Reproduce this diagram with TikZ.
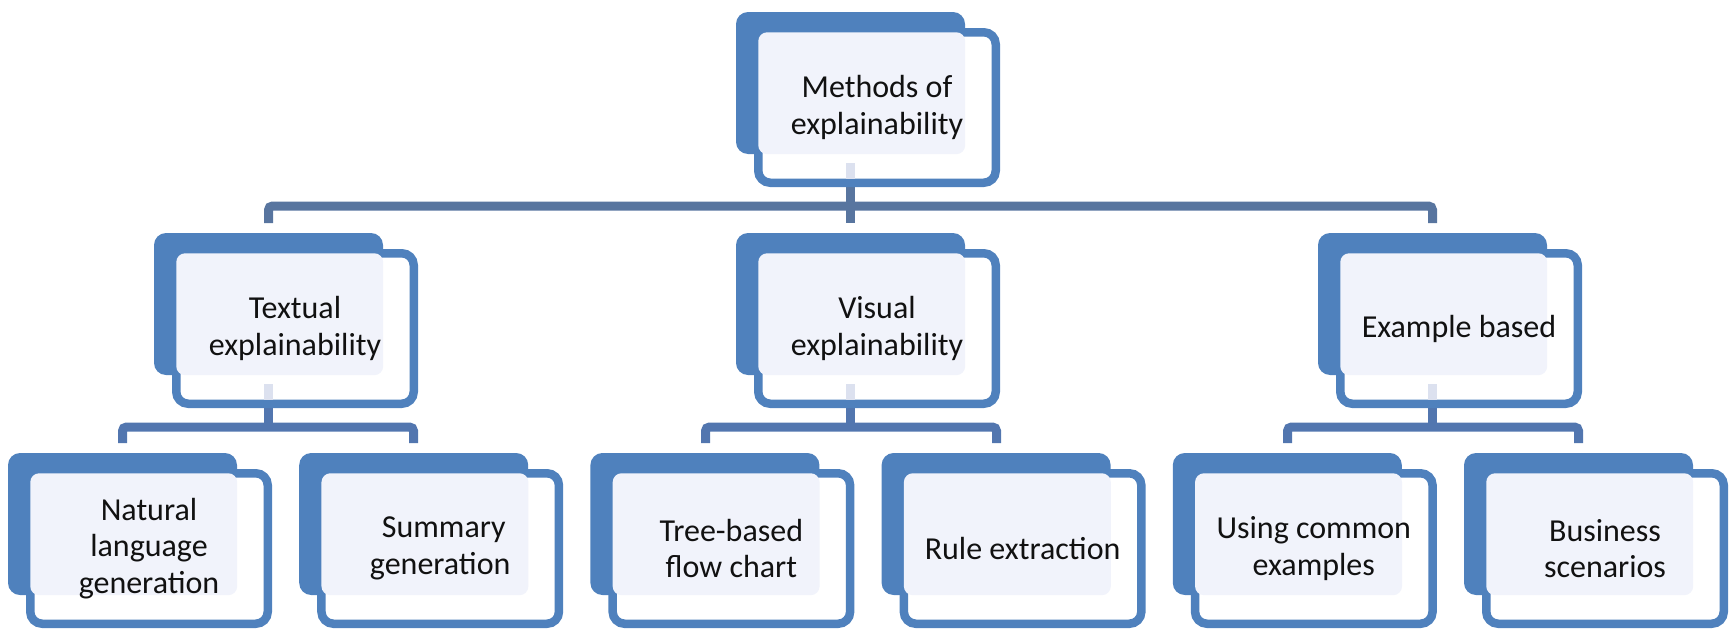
\documentclass[tikz,border=0pt]{standalone}
\usepackage{fontspec}
\setmainfont{Carlito}
\usetikzlibrary{calc}
\definecolor{boxblue}{HTML}{4F81BD}
\definecolor{lav}{HTML}{F1F3FB}
\definecolor{faintc}{HTML}{DCE1EF}
\definecolor{connA}{HTML}{58759F}
\definecolor{connB}{HTML}{5276AF}
\definecolor{txt}{HTML}{111111}
\tikzset{
  backbox/.style={fill=boxblue, draw=none, inner sep=0pt, minimum width=229pt, minimum height=142pt, rounded corners=12pt},
  frontbox/.style={fill=white, draw=boxblue, line width=8.5pt, inner sep=0pt, minimum width=237.5pt, minimum height=150.5pt, rounded corners=12pt},
  lavfill/.style={fill=lav, rounded corners=9pt},
  faintseg/.style={fill=faintc},
  lbl/.style={text=txt, align=center, inner sep=0pt, font=\fontsize{32pt}{36.5pt}\selectfont},
  connone/.style={draw=connA, line width=9pt, rounded corners=4pt},
  conntwo/.style={draw=connB, line width=9pt, rounded corners=4pt},
}
\newcommand\xleaf[4]{%
  \node[backbox] (#1-b) at ({#2+114.5},{#3+71}) {};
  \node[frontbox] (#1) at ({#2+141},{#3+95.5}) {};
  \fill[lavfill] ([shift={(4.25pt,-4.25pt)}]#1.north west) rectangle (#1-b.south east);
  \node[lbl] (#1-t) at (#1.center) {#4};
}
\newcommand\xbox[4]{%
  \xleaf{#1}{#2}{#3}{#4}%
  \fill[faintseg] ({#2+110},{#3+151}) rectangle ({#2+119},{#3+166.5});
}
\begin{document}
\begin{tikzpicture}[x=1pt,y=-1pt]
\useasboundingbox (0,0) rectangle (1729,629);
% junction coordinates
\coordinate (j0) at (850.5,206);
\coordinate (j1) at (268.5,427);
\coordinate (j2) at (850.5,427);
\coordinate (j3) at (1432.5,427);
% connectors (drawn first, boxes cover their ends)
\draw[connone] (268.5,223) |- (j0) -| (1432.5,223);
\draw[connone] (850.5,185) -- (j0) -- (850.5,223);
\draw[conntwo] (122.5,443) |- (j1) -| (413.5,443);
\draw[conntwo] (268.5,405) -- (j1);
\draw[conntwo] (705.5,443) |- (j2) -| (996.5,443);
\draw[conntwo] (850.5,405) -- (j2);
\draw[conntwo] (1287.5,443) |- (j3) -| (1578.5,443);
\draw[conntwo] (1432.5,405) -- (j3);
% boxes
\xbox{m}{736}{12}{Methods of\\explainability}
\xbox{tx}{154}{233}{Textual\\explainability}
\xbox{vi}{736}{233}{Visual\\explainability}
\xbox{ex}{1318}{233}{Example based}
\xleaf{nl}{8}{453}{Natural\\language\\generation}
\xleaf{sg}{299.2}{453}{\ Summary\\generation}
\xleaf{tb}{590.4}{453}{Tree-based\\flow chart}
\xleaf{re}{881.6}{453}{Rule extraction}
\xleaf{uc}{1172.8}{453}{Using common\\examples}
\xleaf{bs}{1464}{453}{Business\\scenarios}
\end{tikzpicture}
\end{document}
